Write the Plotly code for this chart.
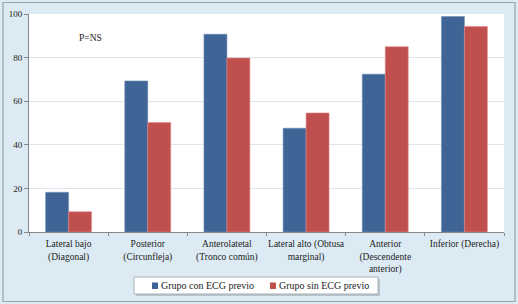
import plotly.graph_objects as go

categories = ["Lateral bajo<br>(Diagonal)", "Posterior<br>(Circunfleja)", "Anterolatetal<br>(Tronco común)",
              "Lateral alto (Obtusa<br>marginal)", "Anterior<br>(Descendente<br>anterior)", "Inferior (Derecha)"]
con_ecg = [18.2, 69.3, 90.7, 47.6, 72.4, 98.8]
sin_ecg = [9.3, 50.2, 79.8, 54.6, 85.0, 94.3]
series_names = ["Grupo con ECG previo", "Grupo sin ECG previo"]
y_ticks = [0, 20, 40, 60, 80, 100]

COLORS = ["#3F6496", "#C0504D"]
EDGES = ["#6F8DB5", "#E08A88"]
FONT = "Liberation Serif, Times New Roman, serif"
W, H = 518, 304
L, R, T, B = 29, 14, 14, 72
pw, ph = W - L - R, H - T - B

def px(x):
    return (x - L) / pw

def py(y):
    return (H - B - y) / ph

fig = go.Figure()
for name, vals, c, e in zip(series_names, [con_ecg, sin_ecg], COLORS, EDGES):
    fig.add_trace(go.Bar(x=categories, y=vals, name=name, showlegend=False,
                         marker=dict(color=c, line=dict(color=e, width=0.6))))

fig.update_layout(
    width=W, height=H,
    margin=dict(l=L, r=R, t=T, b=B, autoexpand=False),
    paper_bgcolor="#DCEBF3", plot_bgcolor="white",
    barmode="group", bargap=0.42, bargroupgap=0,
    font=dict(family=FONT, size=9, color="#222"),
    showlegend=False,
    xaxis=dict(type="category", tickson="boundaries", ticks="outside", ticklen=3,
               tickangle=0, automargin=False, ticklabelstandoff=3,
               tickcolor="#888", showline=True, linecolor="#888", linewidth=1,
               showgrid=False, tickfont=dict(family=FONT, size=9.5)),
    yaxis=dict(range=[0, 100], tickvals=y_ticks, ticks="outside", ticklen=4,
               automargin=False,
               tickcolor="#888", showline=True, linecolor="#888", linewidth=1,
               gridcolor="#DDE6EF", gridwidth=1, zeroline=False,
               tickfont=dict(family=FONT, size=9)),
)

fig.add_annotation(text="P=NS", x=px(77), y=py(38), xref="paper", yref="paper",
                   xanchor="left", yanchor="middle", showarrow=False,
                   font=dict(family=FONT, size=9.5, color="#222"))

# legend box (shadow + box)
fig.add_shape(type="rect", xref="paper", yref="paper",
              x0=px(136), x1=px(380), y0=py(296), y1=py(279),
              line=dict(width=0), fillcolor="#B8C4CC", layer="above")
fig.add_shape(type="rect", xref="paper", yref="paper",
              x0=px(134), x1=px(378), y0=py(294), y1=py(277),
              line=dict(color="#A8B0B5", width=1), fillcolor="white", layer="above")
for name, c, sx in zip(series_names, COLORS, [152, 270]):
    fig.add_shape(type="rect", xref="paper", yref="paper",
                  x0=px(sx), x1=px(sx + 6), y0=py(289), y1=py(282.5),
                  line=dict(width=0), fillcolor=c, layer="above")
    fig.add_annotation(text=name, x=px(sx + 7), y=py(285.5), xref="paper", yref="paper",
                       xanchor="left", yanchor="middle", showarrow=False,
                       font=dict(family=FONT, size=10, color="#222"))

fig.add_shape(type="rect", xref="paper", yref="paper",
              x0=px(3), x1=px(515), y0=py(301.5), y1=py(2.5),
              line=dict(color="#9AA4AA", width=1.2), fillcolor="rgba(0,0,0,0)", layer="above")

fig.write_html("out.html", config={"displayModeBar": False},
               post_script="document.body.style.margin='0';")
